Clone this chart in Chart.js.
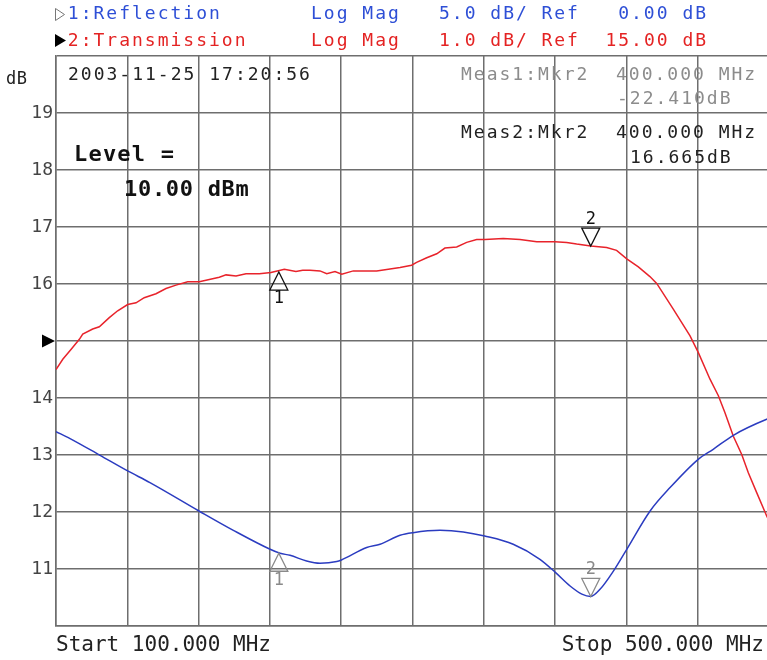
<!DOCTYPE html>
<html>
<head>
<meta charset="utf-8">
<script src="https://cdn.jsdelivr.net/npm/chart.js@4"></script>
<style>
  html, body { margin: 0; padding: 0; background: #fff; overflow: hidden; }
</style>
</head>
<body>
<canvas id="c" width="772" height="660"></canvas>
<script>
// Trace 2: Transmission (1 dB/div, ref 15 dB)
var transFreq = [100, 103.8, 108.4, 113.1, 115, 120.6, 124.3, 129.9, 134.6, 140.2, 144.9, 149.5, 156.1, 161.7,
    167.3, 173.9, 180.4, 186, 191.6, 195.4, 201, 206.6, 214.1, 220.6, 228.1, 234.6, 238.4, 242.5, 248.1,
    251.9, 256.5, 260.3, 266.8, 279.9, 293, 299.5, 302.3, 308, 313.6, 318.2, 324.8, 330.4, 336, 340.7,
    350.9, 360.3, 369.7, 379.9, 386.5, 392.1, 400, 408.9, 414.5, 420.2, 426.7, 433.2, 437, 446.3, 455.7,
    460.3, 466.9, 471.6, 475.3, 480, 484.7, 488.4, 493.1, 498.7, 500];
var transDb = [14.50, 14.68, 14.85, 15.03, 15.12, 15.21, 15.25, 15.41, 15.53, 15.64, 15.67, 15.76, 15.83, 15.92,
    15.98, 16.04, 16.04, 16.08, 16.12, 16.16, 16.14, 16.18, 16.18, 16.20, 16.26, 16.22, 16.24, 16.24, 16.23,
    16.18, 16.22, 16.17, 16.23, 16.23, 16.29, 16.33, 16.38, 16.46, 16.53, 16.63, 16.65, 16.73, 16.78, 16.78,
    16.80, 16.78, 16.74, 16.74, 16.73, 16.70, 16.665, 16.64, 16.59, 16.44, 16.30, 16.13, 16.01, 15.56, 15.09,
    14.80, 14.33, 14.04, 13.74, 13.33, 13.01, 12.69, 12.34, 11.93, 11.85];

// Trace 1: Reflection (5 dB/div, ref 0 dB)
var reflFreq = [100, 107.9, 124.7, 140.2, 152.7, 180.2, 199.5, 220.1, 225.7, 231.3, 240.6, 248.1, 257.5, 260.1,
    274.3, 281.8, 293, 300.3, 315.4, 328.5, 340.5, 356.5, 371.5, 380.3, 388.4, 395, 400, 405.2, 412.7, 420.2,
    433.3, 444.5, 460.3, 468.7, 480, 498.7, 500];
var reflDb = [-7.95, -8.56, -10.03, -11.40, -12.42, -14.91, -16.61, -18.27, -18.62, -18.80, -19.30, -19.50, -19.35, -19.21,
    -18.12, -17.83, -17.04, -16.81, -16.61, -16.75, -17.11, -17.83, -19.15, -20.32, -21.49, -22.2, -22.41, -21.78, -20.18, -18.27,
    -14.91, -12.86, -10.38, -9.50, -8.27, -6.87, -6.80];

// markers
var markerFreq = [225, 400];
var markerLabels = ['1', '2'];
var transMarkerDb = [16.21, 16.665];
var reflMarkerDb = [-18.62, -22.41];

var transRef = 15;

function pts(fs, vs) {
    return fs.map(function(f, i) { return { x: f, y: vs[i] }; });
}

function put(ctx, str, x, y, font, color, spacing, align) {
    ctx.font = font;
    ctx.fillStyle = color;
    ctx.letterSpacing = (spacing || 0) + 'px';
    ctx.textAlign = align || 'left';
    ctx.textBaseline = 'middle';
    ctx.fillText(str, x, y);
}

var MONO = '"DejaVu Sans Mono", "Liberation Mono", monospace';
var small = '18px ' + MONO;
var SP = 2.0;
function col(i) { return 55 + i * 12.8; }

function drawMarker(ctx, x, y, up, label, color) {
    ctx.strokeStyle = color;
    ctx.lineWidth = 1.3;
    ctx.beginPath();
    ctx.moveTo(x, y);
    if (up) {
        ctx.lineTo(x - 9, y + 18);
        ctx.lineTo(x + 9, y + 18);
    } else {
        ctx.lineTo(x - 9, y - 18);
        ctx.lineTo(x + 9, y - 18);
    }
    ctx.closePath();
    ctx.stroke();
    put(ctx, label, x, up ? y + 27 : y - 27, '17px ' + MONO, color, 0, 'center');
}

var screenText = {
    id: 'screenText',
    afterDraw: function(chart) {
        var ctx = chart.ctx;
        var xs = chart.scales.x, ys = chart.scales.y, yr = chart.scales.yRefl;
        ctx.save();

        // header
        ctx.strokeStyle = '#777';
        ctx.lineWidth = 1;
        ctx.beginPath();
        ctx.moveTo(55.5, 8.5); ctx.lineTo(55.5, 20.5); ctx.lineTo(64.5, 14.5); ctx.closePath();
        ctx.stroke();
        var blue = '#2e4fd6', red = '#e42323';
        put(ctx, '1:Reflection', col(1), 14, small, blue, SP);
        put(ctx, 'Log Mag', col(20), 14, small, blue, SP);
        put(ctx, '5.0 dB/', col(30), 14, small, blue, SP);
        put(ctx, 'Ref', col(38), 14, small, blue, SP);
        put(ctx, '0.00 dB', col(44), 14, small, blue, SP);

        ctx.fillStyle = '#000';
        ctx.beginPath();
        ctx.moveTo(55, 34); ctx.lineTo(55, 47); ctx.lineTo(66, 40.5); ctx.closePath();
        ctx.fill();
        put(ctx, '2:Transmission', col(1), 41, small, red, SP);
        put(ctx, 'Log Mag', col(20), 41, small, red, SP);
        put(ctx, '1.0 dB/', col(30), 41, small, red, SP);
        put(ctx, 'Ref', col(38), 41, small, red, SP);
        put(ctx, '15.00 dB', col(43), 41, small, red, SP);

        // axis unit
        put(ctx, 'dB', 6, 80, '17px ' + MONO, '#222', 0.5);

        // ref level arrow
        var ry = ys.getPixelForValue(transRef);
        ctx.fillStyle = '#000';
        ctx.beginPath();
        ctx.moveTo(42, ry - 6.5); ctx.lineTo(42, ry + 6.5); ctx.lineTo(55, ry); ctx.closePath();
        ctx.fill();

        // readouts
        put(ctx, '2003-11-25 17:20:56', 68, 75, small, '#222', SP);
        put(ctx, 'Meas1:Mkr2', 461, 75, small, '#8c8c8c', SP);
        put(ctx, '400.000 MHz', 616, 75, small, '#8c8c8c', SP);
        put(ctx, '-22.410dB', 617, 99, small, '#8c8c8c', SP);
        put(ctx, 'Meas2:Mkr2', 461, 133, small, '#222', SP);
        put(ctx, '400.000 MHz', 616, 133, small, '#222', SP);
        put(ctx, '16.665dB', 630, 158, small, '#222', SP);

        put(ctx, 'Level =', 74, 155, 'bold 22px ' + MONO, '#111', 1.2);
        put(ctx, '10.00 dBm', 124, 190, 'bold 22px ' + MONO, '#111', 0.7);

        // start / stop
        put(ctx, 'Start 100.000 MHz', xs.getPixelForValue(100), 646, '21px ' + MONO, '#222', 0);
        put(ctx, 'Stop 500.000 MHz', 764, 646, '21px ' + MONO, '#222', 0, 'right');

        // markers
        for (var i = 0; i < markerFreq.length; i++) {
            var mx = xs.getPixelForValue(markerFreq[i]);
            drawMarker(ctx, mx, ys.getPixelForValue(transMarkerDb[i]), i === 0, markerLabels[i], '#111');
            drawMarker(ctx, mx, yr.getPixelForValue(reflMarkerDb[i]), i === 0, markerLabels[i], '#8a8a8a');
        }
        ctx.restore();
    }
};

var gridColor = '#6e6e6e';

new Chart(document.getElementById('c').getContext('2d'), {
    type: 'line',
    data: {
        datasets: [
            { label: 'Reflection', data: pts(reflFreq, reflDb), yAxisID: 'yRefl', borderColor: '#2b3cc0', borderWidth: 1.5,
              pointRadius: 0, cubicInterpolationMode: 'monotone', fill: false },
            { label: 'Transmission', data: pts(transFreq, transDb), yAxisID: 'y', borderColor: '#e8232b', borderWidth: 1.5,
              pointRadius: 0, tension: 0, fill: false }
        ]
    },
    options: {
        responsive: false,
        animation: false,
        devicePixelRatio: 1,
        layout: { padding: { top: 56, right: 3, left: 0, bottom: 0 } },
        plugins: { legend: { display: false }, tooltip: { enabled: false } },
        scales: {
            x: {
                type: 'linear',
                min: 100,
                max: 500,
                ticks: { display: false, stepSize: 40 },
                grid: { color: gridColor, lineWidth: 1.5, drawTicks: false },
                border: { color: gridColor, width: 1.5 },
                afterFit: function(s) { s.height = 34; }
            },
            y: {
                min: 10,
                max: 20,
                ticks: {
                    stepSize: 1,
                    padding: 3,
                    color: '#444',
                    font: { family: MONO, size: 18 },
                    callback: function(v) { return (v === 10 || v === 20 || v === transRef) ? '' : v; }
                },
                grid: { color: gridColor, lineWidth: 1.5, drawTicks: false },
                border: { color: gridColor, width: 1.5 },
                afterFit: function(s) { s.width = 56; }
            },
            yRefl: {
                display: false,
                min: -25,
                max: 25
            }
        }
    },
    plugins: [screenText]
});
</script>
</body>
</html>
